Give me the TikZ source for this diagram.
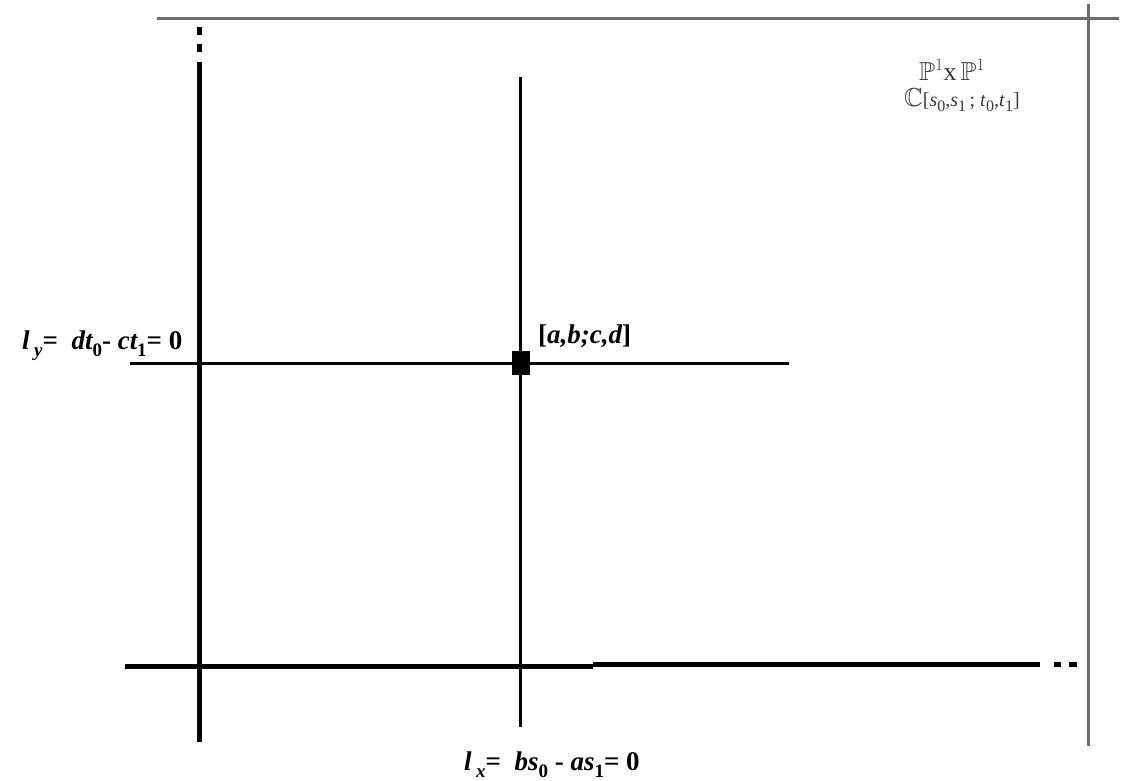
\documentclass[tikz,border=0pt]{standalone}
\usepackage{amssymb}
\usepackage{fontspec}
\setmainfont{Liberation Serif}
\newcommand{\sbi}[1]{\raisebox{-7pt}{\fontsize{19}{20}\selectfont\itshape #1}}
\newcommand{\sbu}[1]{\raisebox{-7pt}{\fontsize{19}{20}\selectfont\upshape #1}}
\newcommand{\ssu}[1]{\raisebox{-5pt}{\fontsize{16}{17}\selectfont\upshape #1}}
\begin{document}
\begin{tikzpicture}[x=1pt,y=-1pt,
  thickline/.style={line width=5pt,black},
  thinline/.style={line width=3pt,black},
  frameline/.style={line width=3pt,gray!85!black},
  lbl/.style={font=\fontsize{27}{30}\selectfont\bfseries\itshape,inner sep=0pt},
  toplbl/.style={font=\fontsize{26}{28}\selectfont,text=black!78,inner sep=0pt}]
\useasboundingbox (0,0) rectangle (1128,780);
% frame lines
\coordinate (ft0) at (157,18);
\coordinate (ft1) at (1119,18);
\coordinate (fv0) at (1088,4);
\coordinate (fv1) at (1088,746);
\draw[frameline] (ft0) -- (ft1);
\draw[frameline] (fv0) -- (fv1);
% thick vertical axis
\coordinate (va0) at (199,62);
\coordinate (va1) at (199,742);
\draw[thickline] (va0) -- (va1);
\coordinate (vd0) at (199,27); \coordinate (vd1) at (199,35);
\coordinate (vd2) at (199,44); \coordinate (vd3) at (199,52);
\draw[thickline] (vd0) -- (vd1) (vd2) -- (vd3);
% thick horizontal axis
\coordinate (ha0) at (125,666);
\coordinate (ham) at (593,666);
\coordinate (han) at (593,664);
\coordinate (ha1) at (1040,664);
\draw[thickline] (ha0) -- (ham);
\draw[thickline] (han) -- (ha1);
\coordinate (hd0) at (1054,664); \coordinate (hd1) at (1061,664);
\coordinate (hd2) at (1069,664); \coordinate (hd3) at (1077,664);
\draw[thickline] (hd0) -- (hd1) (hd2) -- (hd3);
% thin lines
\coordinate (tv0) at (520,77);
\coordinate (tv1) at (520,727);
\coordinate (th0) at (130,363);
\coordinate (th1) at (789,363);
\draw[thinline] (tv0) -- (tv1);
\draw[thinline] (th0) -- (th1);
% point
\node[fill=black,minimum width=18pt,minimum height=24pt,inner sep=0pt] (pt) at (520.5,362.5) {};
% labels
\node[lbl,anchor=base west] (ly) at (22,349) {l\,\sbi{y}{\upshape=} \ dt\sbu{0}{\upshape -} ct\sbu{1}{\upshape = 0}};
\node[lbl,anchor=base west] (pl) at (538,343) {{\upshape[}a,b;c,d{\upshape]}};
\node[lbl,anchor=base west] (lx) at (464,770) {l\,\sbi{x}{\upshape=} \ bs\sbu{0}{\upshape\ -} as\sbu{1}{\upshape = 0}};
\node[toplbl,anchor=base west] (pp) at (919,80) {$\mathbb{P}^{1}$x$\,\mathbb{P}^{1}$};
\node[toplbl,anchor=base west] (cc) at (904,106) {$\mathbb{C}$\fontsize{20}{21}\selectfont[\textit{s}\ssu{0},\textit{s}\ssu{1}\,; \textit{t}\ssu{0},\textit{t}\ssu{1}]};
\end{tikzpicture}
\end{document}
